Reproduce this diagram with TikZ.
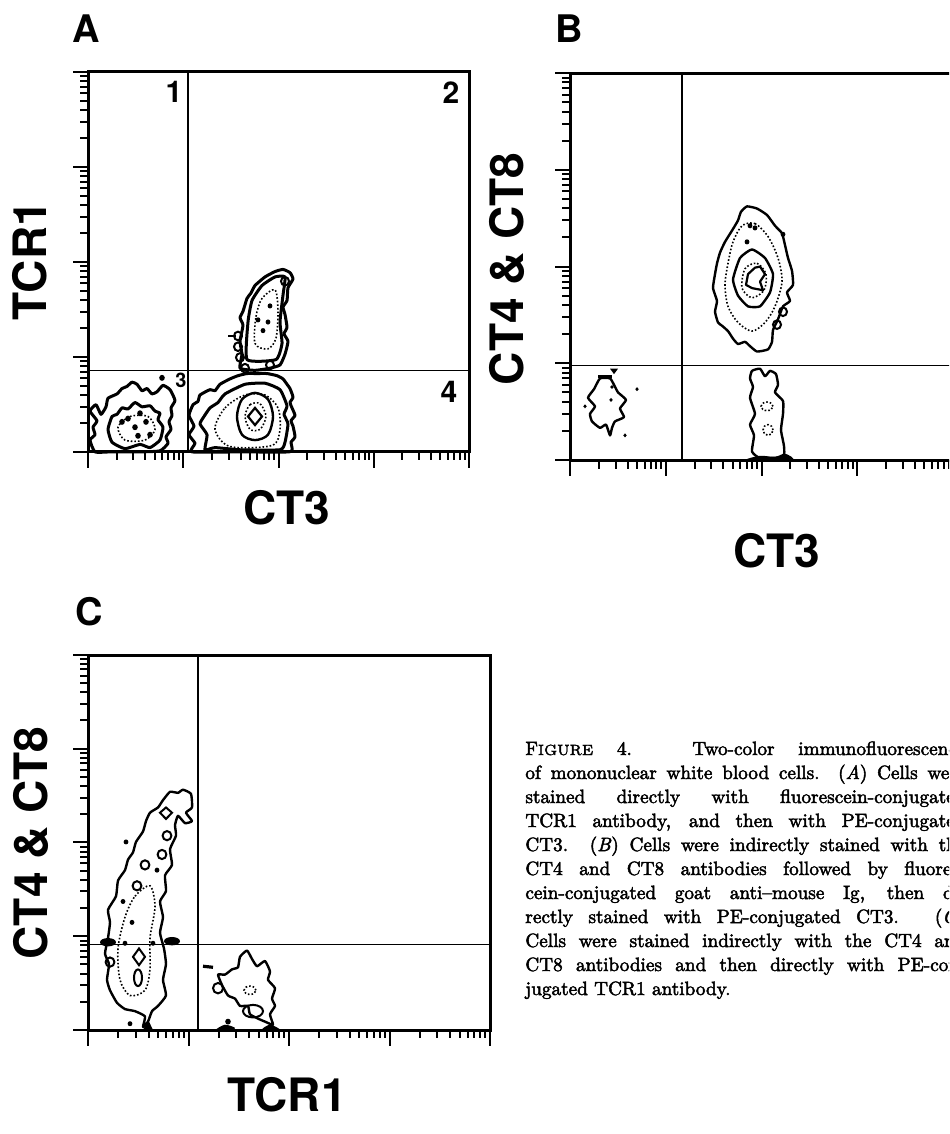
\documentclass[tikz,border=0pt]{standalone}
\usepackage{fontspec}
\newfontfamily\heros{TeX Gyre Heros}
\newfontfamily\capfont{Latin Modern Roman}[Ligatures=TeX, FakeBold=2.5]
\usepackage{tikz}

\newlength{\capw}
\setlength{\capw}{220pt}

\tikzset{
  plotframe/.style={line width=1.5pt, line cap=rect},
  gate/.style={line width=0.8pt},
  axtick/.style={line width=1pt},
  contourline/.style={line width=1.5pt, line join=round},
  contourthin/.style={line width=1.2pt, line join=round},
  contourdot/.style={line width=0.8pt, densely dotted},
  panellabel/.style={font=\heros\bfseries\fontsize{19}{19}\selectfont, inner sep=0pt},
  axislabel/.style={font=\heros\bfseries\fontsize{23}{23}\selectfont, inner sep=0pt},
  quadlabel/.style={font=\heros\bfseries\fontsize{15}{15}\selectfont, inner sep=0pt},
  capnode/.style={anchor=base west, inner sep=0pt, font=\capfont\fontsize{9.6}{12}\selectfont},
}

% log ticks below and left of a plot: x0, y0 (lower left), x1, y1 (upper right)
\newcommand{\logaxes}[4]{%
  \pgfmathsetmacro{\decx}{(#3-#1)/4}%
  \pgfmathsetmacro{\decy}{(#2-#4)/4}%
  \foreach \decade in {0,...,3}{%
    \foreach \minor in {2,...,9}{%
      \draw[axtick] ({#1+(\decade+log10(\minor))*\decx},#2) -- ++(0,8);
      \draw[axtick] (#1,{#2-(\decade+log10(\minor))*\decy}) -- ++(-8,0);
    }%
  }%
  \foreach \decade in {0,...,4}{%
    \draw[axtick] ({#1+\decade*\decx},#2) -- ++(0,15);
    \draw[axtick] (#1,{#2-\decade*\decy}) -- ++(-15,0);
  }%
}
\newcommand{\capline}[2]{%
  \node[capnode] (cap#1) at (525,{755+24*(#1-1)}) {\makebox[\capw][s]{#2}};}

\begin{document}
\begin{tikzpicture}[x=0.5pt, y=-0.5pt]
  \path[use as bounding box] (0,0) rectangle (949,1134);
  \clip (0,0) rectangle (949,1134);

  % panel A
  \begin{scope}[yscale=1.0734]
  \node[panellabel] (labA) at (86,27) {A};
  \coordinate (A-sw) at (88,421);
  \coordinate (A-ne) at (469,67);
  \draw[plotframe] (A-sw) rectangle (A-ne);
  \draw[gate] (188,67) -- (188,421);
  \draw[gate] (88,345) -- (469,345);
  \logaxes{88}{421}{469}{67}
  \node[quadlabel] (qA1) at (174,86) {1};
  \node[quadlabel] (qA2) at (451,86) {2};
  \node[quadlabel, font=\heros\bfseries\fontsize{10}{10}\selectfont] (qA3) at (181,354) {3};
  \node[quadlabel] (qA4) at (449,365) {4};
  \node[axislabel, rotate=90] (ylabA) at (30,243) {TCR1};
  \node[axislabel] (xlabA) at (287,473) {CT3};

  \draw[contourline] plot[smooth cycle, tension=0.3] coordinates {(90,383) (96,377) (101,386) (106,379)
    (108,371) (117,367) (122,362) (127,360) (132,356) (137,358) (142,364) (147,362) (152,367) (157,365)
    (163,359) (170,363) (175,373) (171,380) (172,387) (169,393) (171,400) (166,407) (168,413) (160,420)
    (140,421) (110,421) (95,421) (90,410) (95,405) (93,398) (97,392)};
  \draw[contourline] plot[smooth cycle, tension=0.3] coordinates {(108,400) (112,388) (117,386) (122,380)
    (128,381) (135,375) (142,379) (150,378) (155,383) (160,385) (158,391) (163,398) (160,410) (150,417)
    (140,414) (125,418) (112,412)};
  \draw[contourdot] plot[smooth cycle] coordinates {(118,398) (130,388) (148,388) (155,400) (145,410) (125,410)};
  \foreach \p in {(128,390),(140,385),(146,393),(135,398),(122,393),(150,405),(138,406),(162,352)}
    \fill \p circle (1.4pt);

  \draw[contourline] plot[smooth cycle, tension=0.3] coordinates {(189,387) (193,377) (198,374) (200,368)
    (210,363) (215,364) (220,358) (230,353) (238,350) (247,348) (257,348) (267,348) (277,350) (283,353)
    (287,358) (290,362) (293,370) (290,375) (292,380) (295,387) (291,392) (293,397) (295,407) (291,412)
    (292,417) (289,421) (240,421) (192,421) (195,413) (189,405) (194,397)};
  \draw[contourline] plot[smooth cycle, tension=0.3] coordinates {(200,395) (204,388) (210,380) (218,375)
    (225,367) (245,358) (265,357) (280,363) (287,378) (284,386) (288,395) (285,412) (280,419) (240,419)
    (215,417) (205,419) (207,405)};
  \draw[contourdot] plot[smooth cycle] coordinates {(215,400) (225,380) (245,368) (265,368) (278,380)
    (280,400) (272,415) (230,416)};
  \draw[contourthin] plot[smooth cycle] coordinates {(237,388) (242,372) (255,366) (268,372) (273,388)
    (268,405) (255,410) (242,405)};
  \draw[contourdot] plot[smooth cycle] coordinates {(245,388) (250,377) (260,376) (266,388) (260,400) (250,400)};
  \draw[line width=1.1pt] (248,388) -- (255,380) -- (262,388) -- (255,396) -- cycle;

  \draw[contourline] plot[smooth cycle, tension=0.3] coordinates {(240,343) (242,330) (240,318) (243,303)
    (240,296) (243,290) (247,278) (251,273) (255,266) (265,258) (275,253) (283,251) (290,254) (293,260)
    (288,268) (287,280) (283,286) (285,293) (287,305) (284,311) (288,318) (285,330) (280,340) (270,343)
    (255,345)};
  \draw[contourline] plot[smooth cycle, tension=0.3] coordinates {(247,335) (248,300) (252,280) (262,266)
    (275,258) (285,258) (283,275) (280,300) (282,320) (276,335)};
  \draw[contourdot] plot[smooth cycle] coordinates {(255,320) (256,295) (262,278) (275,270) (278,290)
    (276,315) (268,325)};
  \foreach \p in {(238,313),(238,323),(240,333),(270,340),(285,262),(245,343)}
    \draw[line width=1pt] \p circle (2pt);
  \foreach \p in {(263,308),(258,298),(268,300),(270,285)}
    \fill \p circle (1.2pt);
  \draw[line width=1pt] (228,313) -- (236,313);
  \end{scope}

  % panel B
  \begin{scope}[yscale=1.075]
  \node[panellabel] (labB) at (569,27) {B};
  \coordinate (B-sw) at (570,428);
  \coordinate (B-ne) at (953,68);
  \draw[plotframe] (B-sw) rectangle (B-ne);
  \draw[gate] (682,68) -- (682,428);
  \draw[gate] (570,340) -- (953,340);
  \logaxes{570}{428}{953}{68}
  \node[axislabel, rotate=90] (ylabB) at (507,250) {CT4 \& CT8};
  \node[axislabel] (xlabB) at (777,512) {CT3};

  \draw[contourthin] plot[smooth cycle, tension=0.3] coordinates {(747,192) (757,194) (767,200) (775,210)
    (782,217) (785,228) (788,240) (792,252) (793,265) (787,272) (790,280) (783,285) (778,297) (773,307)
    (772,318) (768,325) (757,327) (750,322) (745,318) (738,320) (733,315) (728,308) (722,303) (718,300)
    (715,290) (717,280) (713,268) (715,255) (717,245) (720,235) (725,225) (733,213) (738,205) (741,197)};
  \draw[contourdot] plot[smooth cycle] coordinates {(742,210) (755,208) (768,220) (778,240) (782,262)
    (775,285) (765,300) (752,308) (738,300) (728,285) (725,265) (728,245) (733,225)};
  \draw[contourthin] plot[smooth cycle, tension=0.3] coordinates {(740,240) (752,232) (765,240) (773,255)
    (770,272) (760,285) (748,285) (738,275) (733,260)};
  \draw[contourdot] plot[smooth cycle] coordinates {(745,250) (757,245) (766,255) (764,270) (752,277) (742,268)};
  \draw[line width=1.1pt, line join=round] (748,255) -- (755,249) -- (760,248) -- (765,255) -- (760,262)
    -- (763,270) -- (752,268) -- (746,265) -- cycle;
  \foreach \p in {(783,290),(777,302)}
    \draw[line width=1pt] \p circle (2pt);
  \foreach \p in {(750,210),(755,212),(747,225),(783,218)}
    \fill \p circle (1.2pt);

  \draw[contourthin] plot[smooth cycle, tension=0.3] coordinates {(600,352) (610,352) (614,358) (618,365)
    (626,372) (620,380) (624,388) (615,392) (612,398) (610,405) (606,395) (600,398) (592,392) (590,385)
    (595,378) (588,370) (594,362)};
  \draw[line width=1.6pt] (598,350) -- (612,350);
  \fill (610,343) -- (618,343) -- (614,348) -- cycle;
  \foreach \p in {(612,360),(611,372),(625,405),(585,378),(637,362)}
    \fill \p circle (0.9pt);

  \draw[contourthin] plot[smooth cycle, tension=0.3] coordinates {(752,345) (760,343) (765,350) (770,345)
    (776,348) (778,358) (775,365) (783,373) (783,385) (781,400) (784,415) (783,425) (760,426) (752,420)
    (754,405) (750,395) (755,385) (750,370) (753,360) (750,352)};
  \draw[contourdot] (767,378) ellipse (3pt and 2pt);
  \draw[contourdot] (768,400) circle (2.5pt);
  \fill plot[smooth cycle] coordinates {(747,428) (760,424) (775,425) (785,422) (792,428)};
  \end{scope}

  % panel C
  \begin{scope}[shift={(0,-23)}, yscale=1.0446]
  \node[panellabel] (labC) at (89,608) {C};
  \coordinate (C-sw) at (88,1008);
  \coordinate (C-ne) at (490,649);
  \draw[plotframe] (C-sw) rectangle (C-ne);
  \draw[gate] (198,649) -- (198,1008);
  \draw[gate] (88,926) -- (490,926);
  \logaxes{88}{1008}{490}{649}
  \node[axislabel, rotate=90] (ylabC) at (31,829) {CT4 \& CT8};
  \node[axislabel] (xlabC) at (287,1070) {TCR1};

  \draw[contourthin] plot[smooth cycle, tension=0.3] coordinates {(170,780) (178,781) (183,778) (191,782)
    (192,795) (186,800) (192,808) (185,810) (178,803) (175,812) (176,822) (170,835) (172,850) (165,860)
    (166,875) (160,885) (163,900) (160,915) (164,930) (166,945) (163,960) (166,975) (158,985) (152,990)
    (148,1000) (143,1005) (145,995) (135,990) (125,988) (117,982) (110,970) (107,960) (109,945) (105,935)
    (108,920) (110,905) (108,893) (116,880) (118,865) (125,855) (128,845) (133,838) (136,828) (143,818)
    (146,808) (150,800) (158,795) (163,788)};
  \draw[contourdot] plot[smooth cycle] coordinates {(125,900) (135,880) (150,870) (155,890) (150,920)
    (150,950) (145,970) (130,975) (120,960) (118,930)};
  \draw[line width=1pt] (160,800) -- (166,795) -- (172,800) -- (166,806) -- cycle;
  \draw[line width=1pt] (133,938) -- (139,930) -- (145,938) -- (139,946) -- cycle;
  \draw[line width=1pt] (138,958) ellipse (2pt and 4pt);
  \foreach \p in {(167,822),(162,840),(145,850),(137,870),(110,943)}
    \draw[line width=1pt] \p circle (2.2pt);
  \foreach \p in {(126,828),(123,885),(132,905),(125,925),(153,925),(157,855),(130,1002)}
    \fill \p circle (1.2pt);
  \fill (108,924) ellipse (4pt and 2pt);
  \fill (172,923) ellipse (4pt and 2pt);
  \fill (143,1008) -- (148,998) -- (153,1008) -- cycle;

  \draw[contourthin] plot[smooth cycle, tension=0.3] coordinates {(247,932) (252,940) (257,947) (265,942)
    (270,952) (268,960) (275,968) (272,978) (275,985) (270,993) (273,1003) (265,1000) (260,998) (250,993)
    (248,985) (240,985) (235,978) (228,975) (222,965) (218,955) (225,955) (232,950) (238,948) (240,938)};
  \draw[contourdot] (250,970) ellipse (3pt and 2pt);
  \draw[line width=1pt] (253,990) ellipse (5pt and 3pt);
  \draw[line width=1pt] (218,968) circle (2.5pt);
  \draw[line width=1.6pt] (203,947) -- (213,948);
  \fill (228,1000) circle (1.4pt);
  \fill plot[smooth cycle] coordinates {(216,1008) (225,1003) (235,1006) (230,1008)};
  \fill plot[smooth cycle] coordinates {(262,1008) (270,1003) (280,1008)};
  \end{scope}

  % caption
  \capline{1}{F{\fontsize{7.4}{9}\selectfont IGURE} 4. Two-color immunofluorescence}
  \capline{2}{of mononuclear white blood cells. (\textit{A}) Cells were}
  \capline{3}{stained directly with fluorescein-conjugated}
  \capline{4}{TCR1 antibody, and then with PE-conjugated}
  \capline{5}{CT3. (\textit{B}) Cells were indirectly stained with the}
  \capline{6}{CT4 and CT8 antibodies followed by fluores-}
  \capline{7}{cein-conjugated goat anti--mouse Ig, then di-}
  \capline{8}{rectly stained with PE-conjugated CT3. (\textit{C})}
  \capline{9}{Cells were stained indirectly with the CT4 and}
  \capline{10}{CT8 antibodies and then directly with PE-con-}
  \node[capnode] (cap11) at (525,995) {jugated TCR1 antibody.};
\end{tikzpicture}
\end{document}
